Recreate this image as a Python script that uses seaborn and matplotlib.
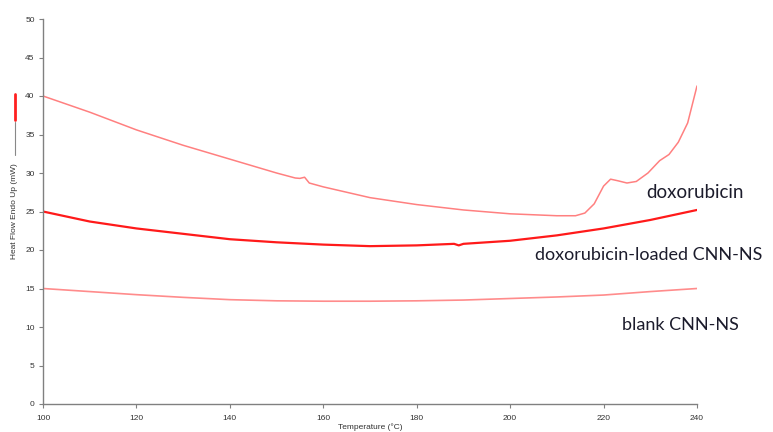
import matplotlib
matplotlib.use("Agg")
import matplotlib.pyplot as plt
import matplotlib.lines as mlines
import seaborn as sns
import pandas as pd

sns.set_theme(style="white")
plt.rcParams['font.family'] = ['Liberation Sans', 'DejaVu Sans']

# ---- data ----
dox_T = [100, 110, 120, 130, 140, 150, 154, 155, 156, 157, 160, 170, 180, 190, 200, 210,
         214, 216, 218, 220, 221.5, 223, 225, 227, 229.5, 232, 234, 236, 238, 240]
dox_hf = [40.0, 37.9, 35.6, 33.6, 31.8, 30.0, 29.35, 29.3, 29.45, 28.7, 28.2, 26.8, 25.9, 25.2, 24.7, 24.45,
          24.45, 24.8, 26.0, 28.3, 29.2, 29.0, 28.7, 28.9, 30.0, 31.6, 32.4, 34.0, 36.5, 41.3]

load_T = [100, 110, 120, 130, 140, 150, 160, 170, 180, 188, 189, 190, 200, 210, 220, 230, 240]
load_hf = [25.0, 23.7, 22.8, 22.1, 21.4, 21.0, 20.7, 20.5, 20.6, 20.8, 20.6, 20.8, 21.2, 21.9, 22.8, 23.9, 25.2]

blank_T = [100, 110, 120, 130, 140, 150, 160, 170, 180, 190, 200, 210, 220, 230, 240]
blank_hf = [15.0, 14.6, 14.2, 13.85, 13.55, 13.4, 13.35, 13.35, 13.4, 13.5, 13.7, 13.9, 14.15, 14.6, 15.0]

x_ticks = [100, 120, 140, 160, 180, 200, 220, 240]
y_ticks = [0, 5, 10, 15, 20, 25, 30, 35, 40, 45, 50]
labels = ["doxorubicin", "doxorubicin-loaded CNN-NS", "blank CNN-NS"]

df_dox = pd.DataFrame({"T": dox_T, "hf": dox_hf})
df_load = pd.DataFrame({"T": load_T, "hf": load_hf})
df_blank = pd.DataFrame({"T": blank_T, "hf": blank_hf})

fig = plt.figure(figsize=(7.73, 4.32), dpi=100)
ax = fig.add_axes([43/773, 28/432, 654/773, 385/432])

sns.lineplot(data=df_dox, x="T", y="hf", ax=ax, color="#ff8080", linewidth=1.1,
             sort=False, estimator=None)
sns.lineplot(data=df_load, x="T", y="hf", ax=ax, color="#ff1a1a", linewidth=1.6,
             sort=False, estimator=None)
sns.lineplot(data=df_blank, x="T", y="hf", ax=ax, color="#ff8c8c", linewidth=1.2,
             sort=False, estimator=None)

ax.set_xlim(100, 240)
ax.set_ylim(0, 50)
ax.set_xticks(x_ticks)
ax.set_yticks(y_ticks)
ax.set_xticklabels([str(t) for t in x_ticks], fontsize=6, color="#333333")
ax.set_yticklabels([str(t) for t in y_ticks], fontsize=6, color="#333333")
for s in ["top", "right"]:
    ax.spines[s].set_visible(False)
for s in ["left", "bottom"]:
    ax.spines[s].set_color("#808080")
    ax.spines[s].set_linewidth(1.0)
ax.tick_params(axis="x", which="both", direction="out", length=3, width=0.8,
               color="#808080", pad=5, bottom=True)
ax.tick_params(axis="y", which="both", direction="out", length=3, width=0.8,
               color="#808080", pad=3, left=True)
ax.set_xlabel("Temperature (°C)", fontsize=6, color="#333333", labelpad=1)
ax.set_ylabel("")

# y-axis title with line markers
fig.text(15/773, (432-211)/432, "Heat Flow Endo Up (mW)", rotation=90, fontsize=6,
         color="#333333", ha="center", va="center")
fig.add_artist(mlines.Line2D([15/773, 15/773], [(432-155)/432, (432-122)/432],
                             color="#888888", linewidth=0.8))
fig.add_artist(mlines.Line2D([15/773, 15/773], [(432-120)/432, (432-94)/432],
                             color="#ff2020", linewidth=2.0))

# annotations
fig.text(695/773, (432-192)/432, labels[0], fontsize=13.5, family=['Lato', 'DejaVu Sans'],
         color="#1c1c2c", ha="center", va="center")
fig.text(649/773, (432-255)/432, labels[1], fontsize=13, family=['Lato', 'DejaVu Sans'],
         color="#1c1c2c", ha="center", va="center")
fig.text(680/773, (432-325)/432, labels[2], fontsize=13, family=['Lato', 'DejaVu Sans'],
         color="#1c1c2c", ha="center", va="center")

fig.savefig("out.png", dpi=100, facecolor="white")
